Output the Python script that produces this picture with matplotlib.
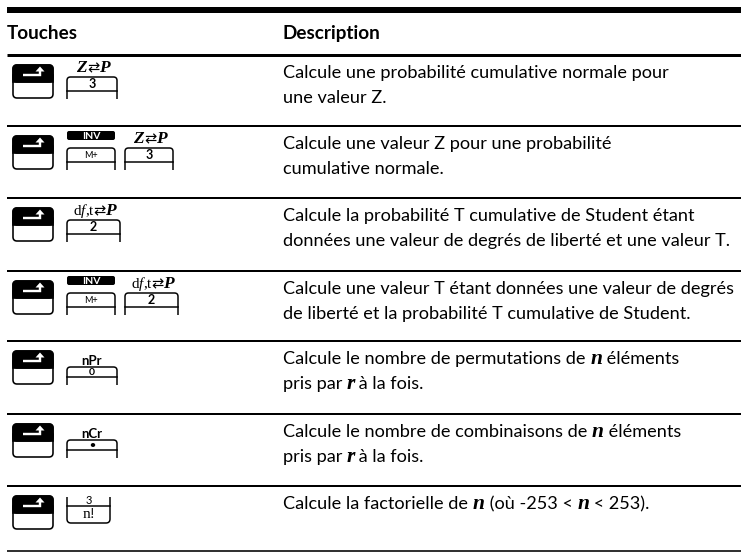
import matplotlib.pyplot as plt
from matplotlib.patches import FancyBboxPatch, Polygon, PathPatch, Rectangle
from matplotlib.path import Path

# Table content
headers = ['Touches', 'Description']
descriptions = [
    ['Calcule une probabilité cumulative normale pour', 'une valeur Z.'],
    ['Calcule une valeur Z pour une probabilité', 'cumulative normale.'],
    ['Calcule la probabilité T cumulative de Student étant',
     'données une valeur de degrés de liberté et une valeur T.'],
    ['Calcule une valeur T étant données une valeur de degrés',
     'de liberté et la probabilité T cumulative de Student.'],
    ['Calcule le nombre de permutations de *n* éléments', 'pris par *r* à la fois.'],
    ['Calcule le nombre de combinaisons de *n* éléments', 'pris par *r* à la fois.'],
    ['Calcule la factorielle de *n* (où -253 < *n* < 253).'],
]
# key sequences: (kind, label above, face label)
key_rows = [
    [('shift', '', ''), ('key', 'zp', '3')],
    [('shift', '', ''), ('inv', 'INV', 'M+'), ('key', 'zp', '3')],
    [('shift', '', ''), ('key', 'dft', '2')],
    [('shift', '', ''), ('inv', 'INV', 'M+'), ('key', 'dft', '2')],
    [('shift', '', ''), ('key', 'nPr', '0')],
    [('shift', '', ''), ('key', 'nCr', '•')],
    [('shift', '', ''), ('low', '3', 'n!')],
]
key_x = [[13, 67], [13, 67, 125], [13, 67], [13, 67, 125], [13, 67], [13, 67], [13, 67]]
key_w = [[40, 50], [40, 48, 48], [40, 53], [40, 48, 53], [40, 50], [40, 50], [40, 43]]
row_lines = [55, 126, 198, 271, 341, 414, 486, 551]

FONT = 'Lato'
W, H = 741, 553
fig = plt.figure(figsize=(W / 100, H / 100), dpi=100)
ax = fig.add_axes([0, 0, 1, 1])
ax.set_xlim(0, W)
ax.set_ylim(H, 0)
ax.axis('off')
renderer = fig.canvas.get_renderer()


def pt(v):
    return v * 72 / 100


def text_width(s, **kw):
    t1 = ax.text(0, 0, s + '.', **kw)
    t2 = ax.text(0, 0, '.', **kw)
    w = t1.get_window_extent(renderer).width - t2.get_window_extent(renderer).width
    t1.remove()
    t2.remove()
    return w


def runs(x, y, parts, ha='left'):
    widths = [text_width(s, **kw) for s, kw in parts]
    if ha == 'center':
        x -= sum(widths) / 2
    for (s, kw), w in zip(parts, widths):
        ax.text(x, y, s, va='baseline', **kw)
        x += w


BODY = dict(family=FONT, size=13.1)
HEAD = dict(family=FONT, size=13.6, weight='bold')
NVAR = dict(family='Liberation Serif', size=15.5, weight='bold', style='italic')
S = dict(family='Liberation Serif', size=11)
SI = dict(family='Liberation Serif', size=11, style='italic')
SBI = dict(family='Liberation Serif', size=12.5, weight='bold', style='italic')
ARR = dict(family='DejaVu Sans', size=10.5)

label_runs = {
    'zp': [('Z', SBI), ('⇄', ARR), ('P', SBI)],
    'dft': [('d', S), ('f', SI), (',t', S), ('⇄', ARR), ('P', SBI)],
    'nPr': [('nPr', dict(family=FONT, size=9.5, weight='bold'))],
    'nCr': [('nCr', dict(family=FONT, size=9.5, weight='bold'))],
}


def hline(y, lw):
    ax.plot([7, W], [y, y], color='black', lw=pt(lw), solid_capstyle='butt')


def key_outline(x, w, top, bottom, line_y, r=3.5):
    verts = [(x, bottom), (x, top + r), (x, top), (x + r, top), (x + w - r, top),
             (x + w, top), (x + w, top + r), (x + w, bottom)]
    codes = [Path.MOVETO, Path.LINETO, Path.CURVE3, Path.CURVE3, Path.LINETO,
             Path.CURVE3, Path.CURVE3, Path.LINETO]
    ax.add_patch(PathPatch(Path(verts, codes), fill=False, ec='black', lw=pt(1.5)))
    ax.plot([x, x + w], [line_y, line_y], color='black', lw=pt(1.5))


def shift_key(x, top, w=40, h=33, r=4):
    ax.add_patch(FancyBboxPatch((x + r, top + r), w - 2 * r, h - 2 * r,
                                boxstyle=f'round,pad={r}', fc='white', ec='black', lw=pt(1.6)))
    ax.add_patch(FancyBboxPatch((x + r, top + r), w - 2 * r, 17 - 2 * r,
                                boxstyle=f'round,pad={r}', fc='black', ec='black', lw=pt(1.6)))
    ax.add_patch(Rectangle((x, top + 10), w, 7, fc='black', ec='black', lw=pt(1.6)))
    ax.plot([x + 10, x + 27, x + 27], [top + 10, top + 10, top + 5.5],
            color='white', lw=pt(2.4), solid_joinstyle='miter', solid_capstyle='butt')
    ax.add_patch(Polygon([(x + 22.5, top + 6.5), (x + 31.5, top + 6.5), (x + 27, top + 1.5)],
                         closed=True, fc='white', ec='none'))


def normal_key(x, w, row, label, face):
    line_y = row + 36
    if label in ('nPr', 'nCr'):
        top = row + 26
        runs(x + w / 2, row + 24, label_runs[label], ha='center')
        ax.text(x + w / 2, line_y - 2, face, ha='center', va='baseline',
                family=FONT, size=7.5, weight='bold')
    else:
        top = row + 22
        runs(x + w / 2, row + 17, label_runs[label], ha='center')
        ax.text(x + w / 2, line_y - 3, face, ha='center', va='baseline',
                family=FONT, size=9, weight='bold')
    key_outline(x, w, top, row + 44, line_y)


def inv_key(x, w, row, label, face):
    ax.add_patch(FancyBboxPatch((x + 2, row + 7), w - 4, 5, boxstyle='round,pad=2',
                                fc='black', ec='none'))
    ax.text(x + w / 2, row + 13, label, ha='center', va='baseline', color='white',
            family=FONT, size=7.5, weight='bold')
    key_outline(x, w, row + 22, row + 44, row + 36)
    ax.text(x + w / 2, row + 32, face, ha='center', va='baseline', family=FONT, size=6.5)


def low_key(x, w, row, label, face, r=4):
    top, mid, bot = row + 11, row + 20, row + 37
    verts = [(x, top), (x, bot - r), (x, bot), (x + r, bot), (x + w - r, bot),
             (x + w, bot), (x + w, bot - r), (x + w, top)]
    codes = [Path.MOVETO, Path.LINETO, Path.CURVE3, Path.CURVE3, Path.LINETO,
             Path.CURVE3, Path.CURVE3, Path.LINETO]
    ax.add_patch(PathPatch(Path(verts, codes), fill=False, ec='black', lw=pt(1.5)))
    ax.plot([x, x + w], [mid, mid], color='black', lw=pt(1.5))
    ax.text(x + w / 2, mid - 2, label, ha='center', va='baseline', family=FONT, size=8)
    ax.text(x + w / 2, row + 32, face, ha='center', va='baseline', family='Liberation Serif', size=11)


# table rules
hline(10, 6)
hline(row_lines[0], 3)
for y in row_lines[1:-1]:
    hline(y, 2)
hline(row_lines[-1], 1.6)

# header
ax.text(7, 39, headers[0], va='baseline', **HEAD)
ax.text(283, 39, headers[1], va='baseline', **HEAD)

# rows
for i, row in enumerate(row_lines[:-1]):
    for (kind, label, face), x, w in zip(key_rows[i], key_x[i], key_w[i]):
        if kind == 'shift':
            shift_key(x, row + 10)
        elif kind == 'key':
            normal_key(x, w, row, label, face)
        elif kind == 'inv':
            inv_key(x, w, row, label, face)
        else:
            low_key(x, w, row, label, face)
    for j, line in enumerate(descriptions[i]):
        parts = [(p, NVAR if k % 2 else BODY) for k, p in enumerate(line.split('*')) if p]
        runs(283, row + 23 + 25 * j, parts)

fig.savefig('out.png', dpi=100)
